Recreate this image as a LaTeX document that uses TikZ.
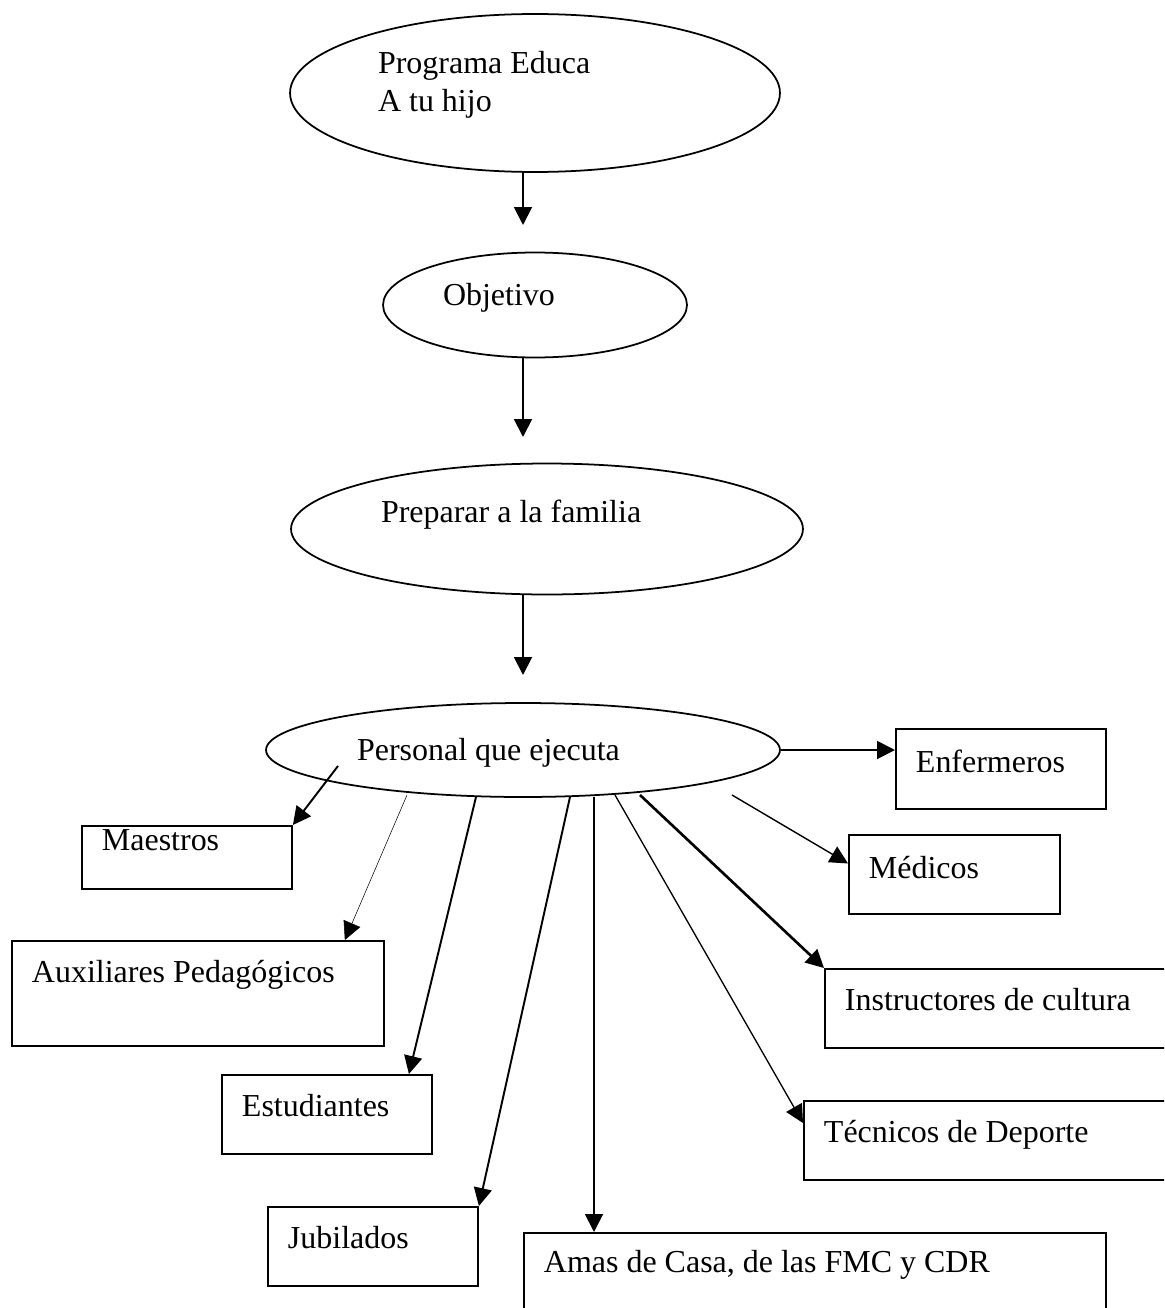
\documentclass[tikz,border=0pt]{standalone}
\usepackage{fontspec}
\setmainfont{Liberation Serif}
\usetikzlibrary{positioning,shapes.geometric,arrows.meta}

\tikzset{
  every node/.append style={execute at begin node={\spaceskip=0.25em plus 0.1em minus 0.05em\relax}},
  elipse/.style={draw, ellipse, line width=1pt, inner sep=0pt, align=left},
  caja/.style={draw, rectangle, line width=1.1pt, anchor=north west,
    inner xsep=0.4cm, inner ysep=0pt, align=left,
    text height=0.84cm, text depth=0.74cm},
  flecha/.style={-{Triangle[length=0.36cm,width=0.36cm]}, line width=1.1pt}
}

\begin{document}
\begin{tikzpicture}[x=0.02cm, y=-0.02cm, font=\fontsize{18.2}{22}\selectfont]
  \useasboundingbox (0,0) rectangle (1164,1308);
  \clip (0,0) rectangle (1164,1308);

  % elipses
  \node[elipse, minimum width=9.8cm, minimum height=3.16cm, text width=6.28cm,
    text height=0.5cm, text depth=1.3cm] (prog) at (535,93) {Programa Educa\\A tu hijo};
  \node[elipse, minimum width=6.08cm, minimum height=2.1cm, text width=3.68cm,
    text height=0.45cm, text depth=0.45cm] (obj) at (535,305) {Objetivo};
  \node[elipse, minimum width=10.24cm, minimum height=2.62cm, text width=6.64cm,
    text height=0.5cm, text depth=0.78cm] (prep) at (547,529) {Preparar a la familia};
  \node[elipse, minimum width=10.28cm, minimum height=1.88cm, text width=6.64cm,
    text height=0.5cm, text depth=0.1cm] (pers) at (523,750) {Personal que ejecuta};

  % cajas
  \node[caja, text width=3.4cm, text height=0.5cm, text depth=0.76cm] (maes) at (81,825) {Maestros};
  \node[caja, text width=6.64cm, text depth=1.26cm] (aux) at (11,940) {Auxiliares Pedagógicos};
  \node[caja, text width=3.4cm] (est) at (221,1074) {Estudiantes};
  \node[caja, text width=3.4cm] (jub) at (267,1206) {Jubilados};
  \node[caja, text width=10.84cm, text height=0.8cm, text depth=1cm] (amas) at (523,1232) {Amas de Casa, de las FMC y CDR};
  \node[caja, text width=3.4cm, text height=0.88cm, text depth=0.72cm] (enf) at (895,728) {Enfermeros};
  \node[caja, text width=3.42cm, text height=0.88cm, text depth=0.7cm] (med) at (848,834) {Médicos};
  \node[caja, text width=6.32cm] (ins) at (824,968) {Instructores de cultura};
  \node[caja, text width=6.74cm] (tec) at (803,1100) {Técnicos de Deporte};

  % flechas verticales
  \coordinate (t1) at (523,225);
  \coordinate (t2) at (523,437);
  \coordinate (t3) at (523,675);
  \draw[flecha] (prog.south -| t1) -- (t1);
  \draw[flecha] (obj.south -| t2) -- (t2);
  \draw[flecha] (prep.south -| t3) -- (t3);

  % salidas del personal
  \coordinate (s1) at (338,766);
  \coordinate (s2) at (407,795);
  \coordinate (s3) at (476,797);
  \coordinate (s4) at (570,797);
  \coordinate (s5) at (594,797);
  \coordinate (s6) at (615,795);
  \coordinate (s7) at (640,795);
  \coordinate (s8) at (732,795);

  \draw[flecha] (pers.east) -- (pers.east -| enf.west);
  \draw[flecha, line width=0.8pt] (s8) -- ([yshift=0.22cm]med.west);
  \draw[flecha, line width=1.5pt] (s7) -- (ins.north west);
  \draw[flecha, line width=0.75pt] (s6) -- ([yshift=-0.46cm]tec.north west);
  \draw[flecha] (s5) -- (s5 |- amas.north);
  \draw[flecha] (s4) -- (jub.north east);
  \draw[flecha] (s3) -- ([xshift=-0.48cm]est.north east);
  \draw[flecha, line width=0.3pt] (s2) -- ([xshift=-0.8cm]aux.north east);
  \draw[flecha] (s1) -- (maes.north east);
\end{tikzpicture}
\end{document}
